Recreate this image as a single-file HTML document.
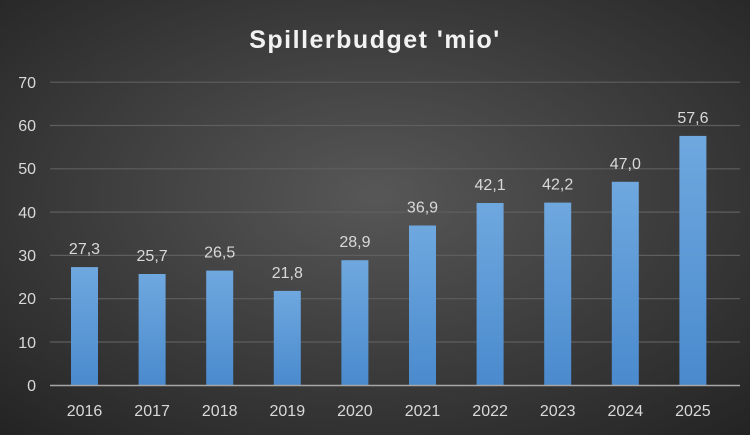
<!DOCTYPE html>
<html><head><style>
body{margin:0;}
svg text{font-family:"Liberation Sans","DejaVu Sans",sans-serif;}
</style></head><body>
<svg width="750" height="435" xmlns="http://www.w3.org/2000/svg">
<defs>
<radialGradient id="bg" cx="50%" cy="45%" r="75%">
<stop offset="0" stop-color="#575757"/><stop offset="1" stop-color="#232323"/>
</radialGradient>
<linearGradient id="bar" x1="0" y1="0" x2="0" y2="1">
<stop offset="0" stop-color="#6fa8df"/><stop offset="1" stop-color="#4a8acd"/>
</linearGradient>
</defs>
<rect width="750" height="435" fill="url(#bg)"/>
<text x="375" y="48" font-size="25" font-weight="bold" fill="#f2f2f2" text-anchor="middle" letter-spacing="1.5">Spillerbudget 'mio'</text>
<g stroke="#5e5e5e" stroke-width="1.2">
<line x1="50" x2="740" y1="342" y2="342"/><line x1="50" x2="740" y1="298.7" y2="298.7"/>
<line x1="50" x2="740" y1="255.4" y2="255.4"/><line x1="50" x2="740" y1="212.1" y2="212.1"/>
<line x1="50" x2="740" y1="168.8" y2="168.8"/><line x1="50" x2="740" y1="125.5" y2="125.5"/>
<line x1="50" x2="740" y1="82.2" y2="82.2"/>
</g>
<g fill="#d9d9d9" font-size="16" text-anchor="end">
<text x="36" y="391">0</text><text x="36" y="348">10</text><text x="36" y="304">20</text>
<text x="36" y="261">30</text><text x="36" y="218">40</text><text x="36" y="174">50</text>
<text x="36" y="131">60</text><text x="36" y="88">70</text>
</g>
<g fill="url(#bar)">
<rect x="71" y="267.1" width="27" height="118.2"/>
<rect x="138.6" y="274.0" width="27" height="111.3"/>
<rect x="206.2" y="270.6" width="27" height="114.7"/>
<rect x="273.8" y="290.9" width="27" height="94.4"/>
<rect x="341.4" y="260.2" width="27" height="125.1"/>
<rect x="409" y="225.5" width="27" height="159.8"/>
<rect x="476.6" y="203.0" width="27" height="182.3"/>
<rect x="544.2" y="202.6" width="27" height="182.7"/>
<rect x="611.8" y="181.8" width="27" height="203.5"/>
<rect x="679.4" y="135.9" width="27" height="249.4"/>
</g>
<g fill="#d9d9d9" font-size="16" text-anchor="middle">
<text x="84.5" y="254">27,3</text>
<text x="152.1" y="261">25,7</text>
<text x="219.7" y="257.5">26,5</text>
<text x="287.3" y="278">21,8</text>
<text x="354.9" y="247">28,9</text>
<text x="422.5" y="212.5">36,9</text>
<text x="490.1" y="190">42,1</text>
<text x="557.7" y="189.5">42,2</text>
<text x="625.3" y="169">47,0</text>
<text x="692.9" y="123">57,6</text>
</g>
<g fill="#d9d9d9" font-size="16" text-anchor="middle">
<text x="84.5" y="416">2016</text><text x="152.1" y="416">2017</text><text x="219.7" y="416">2018</text>
<text x="287.3" y="416">2019</text><text x="354.9" y="416">2020</text><text x="422.5" y="416">2021</text>
<text x="490.1" y="416">2022</text><text x="557.7" y="416">2023</text><text x="625.3" y="416">2024</text>
<text x="692.9" y="416">2025</text>
</g>
<line x1="50" x2="740" y1="385.5" y2="385.5" stroke="#a6a6a6" stroke-width="1.5"/>
</svg>
</body></html>
